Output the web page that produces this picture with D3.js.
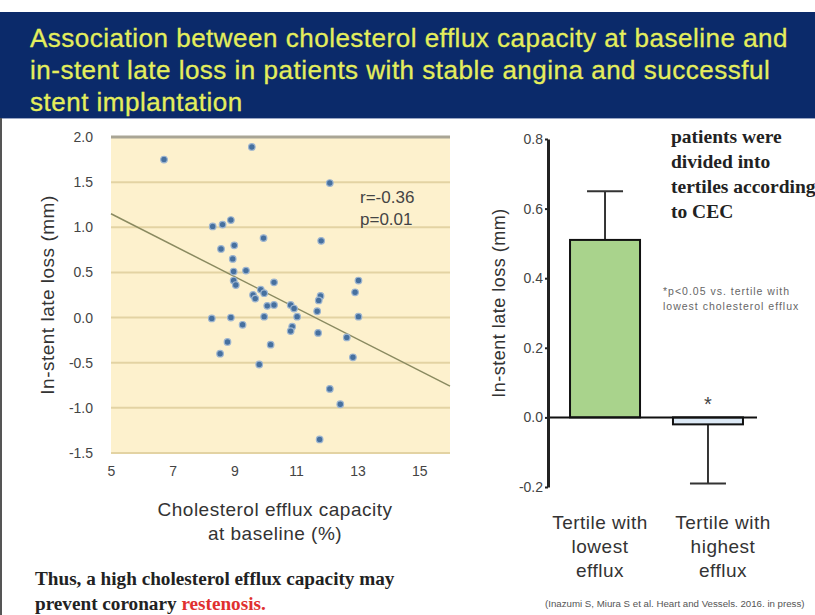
<!DOCTYPE html>
<html>
<head>
<meta charset="utf-8">
<script src="https://cdn.jsdelivr.net/npm/d3@7"></script>
<style>
  body { margin: 0; background: #fff; }
  svg { display: block; font-family: "Liberation Sans", Arial, sans-serif; }
</style>
</head>
<body>
<svg id="slide" width="815" height="615"></svg>
<script>
// title lines
var titleLines = [
  "Association between cholesterol efflux capacity at baseline and",
  "in-stent late loss in patients with stable angina and successful",
  "stent implantation"
];

// scatter: cholesterol efflux capacity (%) vs in-stent late loss (mm)
var cecValues = [6.72, 9.57, 12.10, 8.30, 8.62, 8.89, 9.95, 11.82, 8.57, 9.00,
  8.95, 8.98, 9.38, 8.98, 9.05, 10.29, 9.61, 9.68, 9.86, 9.97,
  10.07, 10.29, 10.83, 10.94, 11.04, 9.97, 8.27, 8.89, 9.27, 10.88,
  10.83, 8.78, 8.54, 10.18, 9.81, 13.03, 12.92, 11.80, 11.74, 11.69,
  13.03, 11.72, 12.65, 12.85, 12.10, 12.44, 11.77];
var lossValues = [1.75, 1.89, 1.49, 1.01, 1.03, 1.08, 0.88, 0.85, 0.76, 0.80,
  0.65, 0.51, 0.52, 0.41, 0.36, 0.39, 0.25, 0.21, 0.31, 0.27,
  0.13, 0.14, 0.14, 0.10, 0.01, 0.01, -0.01, 0.00, -0.08, -0.10,
  -0.15, -0.27, -0.40, -0.30, -0.52, 0.41, 0.28, 0.24, 0.19, 0.07,
  0.01, -0.17, -0.22, -0.44, -0.79, -0.96, -1.35];
var fitLine = [[5, 1.15], [16, -0.76]];
var scatterXTicks = [5, 7, 9, 11, 13, 15];
var scatterYTicks = [2.0, 1.5, 1.0, 0.5, 0.0, -0.5, -1.0, -1.5];
var statLines = ["r=-0.36", "p=0.01"];

// bar chart: tertiles
var tertileNames = ["low", "high"];
var tertileLabels = [["Tertile with", "lowest", "efflux"], ["Tertile with", "highest", "efflux"]];
var tertileMeans = [0.51, -0.02];
var tertileErrors = [0.65, -0.19];
var barYTicks = [0.8, 0.6, 0.4, 0.2, 0.0, -0.2];

var fmt1 = function(d){ return d.toFixed(1); };  // plain hyphen minus like the slide

var svg = d3.select("#slide");

/* title banner */
svg.append("rect")
  .attr("x", 0).attr("y", 12)
  .attr("width", 815).attr("height", 106)
  .attr("fill", "#0b2a6a");
svg.append("line")
  .attr("x1", 0).attr("x2", 815)
  .attr("y1", 118.5).attr("y2", 118.5)
  .attr("stroke", "#9aa6c4").attr("stroke-width", 1);
svg.append("line")
  .attr("x1", 1).attr("x2", 1)
  .attr("y1", 118).attr("y2", 615)
  .attr("stroke", "#555").attr("stroke-width", 2);

svg.selectAll(".title-line")
  .data(titleLines)
  .enter().append("text")
  .attr("class", "title-line")
  .attr("x", 30)
  .attr("y", function(d, i){ return 47 + i * 32; })
  .attr("fill", "#e4ee5c")
  .attr("stroke", "#e4ee5c")
  .attr("stroke-width", 0.3)
  .style("font-size", "26px")
  .style("letter-spacing", "0.5px")
  .text(function(d){ return d; });

/* scatter plot */
var sc = {left: 111, right: 450, top: 137, bottom: 453};

var x = d3.scaleLinear().domain([5, 16]).range([sc.left, sc.right]);
var y = d3.scaleLinear().domain([-1.5, 2.0]).range([sc.bottom, sc.top]);

var gS = svg.append("g");

gS.append("rect")
  .attr("x", sc.left).attr("y", sc.top)
  .attr("width", sc.right - sc.left).attr("height", sc.bottom - sc.top)
  .attr("fill", "#fdf1cd");

gS.selectAll(".grid")
  .data(scatterYTicks)
  .enter().append("line")
  .attr("class", "grid")
  .attr("x1", sc.left).attr("x2", sc.right)
  .attr("y1", function(d){ return y(d); })
  .attr("y2", function(d){ return y(d); })
  .attr("stroke", function(d){ return d == 2.0 ? "#a9a595" : "#e3d3a3"; })
  .attr("stroke-width", function(d){ return d == 2.0 ? 3 : 2; });

var yAxisS = gS.append("g")
  .attr("transform", "translate(" + sc.left + ",0)")
  .call(d3.axisLeft(y).tickValues(scatterYTicks).tickFormat(fmt1).tickSize(0).tickPadding(18));
yAxisS.select(".domain").remove();
yAxisS.selectAll("text").style("font-size", "14px").attr("fill", "#444");

var xAxisS = gS.append("g")
  .attr("transform", "translate(0," + sc.bottom + ")")
  .call(d3.axisBottom(x).tickValues(scatterXTicks).tickSize(0).tickPadding(13));
xAxisS.select(".domain").remove();
xAxisS.selectAll("text").style("font-size", "14px").attr("fill", "#444");

gS.append("path")
  .datum(fitLine)
  .attr("d", d3.line().x(function(d){ return x(d[0]); }).y(function(d){ return y(d[1]); }))
  .attr("stroke", "#8a8a60")
  .attr("stroke-width", 1.5)
  .attr("fill", "none");

var pts = cecValues.map(function(d, i){ return {cec: d, loss: lossValues[i]}; });

gS.selectAll(".pt")
  .data(pts)
  .enter().append("circle")
  .attr("class", "pt")
  .attr("cx", function(d){ return x(d.cec); })
  .attr("cy", function(d){ return y(d.loss); })
  .attr("r", 3.3)
  .attr("fill", "#46709f")
  .attr("stroke", "#9db5d0")
  .attr("stroke-width", 1.2);

gS.selectAll(".stat")
  .data(statLines)
  .enter().append("text")
  .attr("class", "stat")
  .attr("x", 360)
  .attr("y", function(d, i){ return 203 + i * 22; })
  .attr("fill", "#444")
  .style("font-size", "17px")
  .text(function(d){ return d; });

gS.append("text")
  .attr("transform", "translate(54," + ((sc.top + sc.bottom) / 2) + ") rotate(-90)")
  .attr("text-anchor", "middle")
  .attr("fill", "#333")
  .style("font-size", "19px")
  .style("letter-spacing", "0.5px")
  .text("In-stent late loss (mm)");

gS.selectAll(".xlab")
  .data(["Cholesterol efflux capacity", "at baseline (%)"])
  .enter().append("text")
  .attr("class", "xlab")
  .attr("x", 275)
  .attr("y", function(d, i){ return 516 + i * 24; })
  .attr("text-anchor", "middle")
  .attr("fill", "#333")
  .style("font-size", "19px")
  .style("letter-spacing", "0.5px")
  .text(function(d){ return d; });

/* bar chart */
var bc = {left: 548, right: 757, top: 139, bottom: 487};

var yb = d3.scaleLinear().domain([-0.2, 0.8]).range([bc.bottom, bc.top]);
var xb = d3.scaleBand().domain(tertileNames).range([bc.left, 765]).paddingInner(0.32).paddingOuter(0.214);
// the category captions sit a little off the bar centres on the slide
var xLab = d3.scalePoint().domain(tertileNames).range([600, 723]);

var gB = svg.append("g");

var bars = gB.selectAll(".bar")
  .data(tertileNames)
  .enter().append("g")
  .attr("class", "bar");

bars.append("line")
  .attr("x1", function(d){ return xb(d) + xb.bandwidth() / 2; })
  .attr("x2", function(d){ return xb(d) + xb.bandwidth() / 2; })
  .attr("y1", function(d, i){ return yb(tertileMeans[i]); })
  .attr("y2", function(d, i){ return yb(tertileErrors[i]); })
  .attr("stroke", "#333").attr("stroke-width", 2);

bars.append("line")
  .attr("x1", function(d){ return xb(d) + xb.bandwidth() / 2 - 18; })
  .attr("x2", function(d){ return xb(d) + xb.bandwidth() / 2 + 18; })
  .attr("y1", function(d, i){ return yb(tertileErrors[i]); })
  .attr("y2", function(d, i){ return yb(tertileErrors[i]); })
  .attr("stroke", "#333").attr("stroke-width", 2);

bars.append("rect")
  .attr("x", function(d){ return xb(d); })
  .attr("width", xb.bandwidth())
  .attr("y", function(d, i){ return yb(Math.max(0, tertileMeans[i])); })
  .attr("height", function(d, i){ return Math.abs(yb(tertileMeans[i]) - yb(0)); })
  .attr("fill", function(d, i){ return i == 0 ? "#a9d38c" : "#dce9f6"; })
  .attr("stroke", "#111").attr("stroke-width", 2);

gB.append("line")
  .attr("x1", bc.left).attr("x2", bc.right)
  .attr("y1", yb(0)).attr("y2", yb(0))
  .attr("stroke", "#111").attr("stroke-width", 2);

var yAxisB = gB.append("g")
  .attr("transform", "translate(" + bc.left + ",0)")
  .call(d3.axisLeft(yb).tickValues(barYTicks).tickFormat(fmt1).tickSizeInner(3).tickSizeOuter(0).tickPadding(2));
yAxisB.select(".domain").attr("stroke", "#222").attr("stroke-width", 3);
yAxisB.selectAll("line").attr("stroke", "#222").attr("stroke-width", 2);
yAxisB.selectAll("text").style("font-size", "14px").attr("fill", "#444");

gB.append("text")
  .attr("x", xb("high") + xb.bandwidth() / 2)
  .attr("y", yb(0.0) - 6)
  .attr("text-anchor", "middle")
  .attr("fill", "#444")
  .style("font-size", "20px")
  .text("*");

gB.append("text")
  .attr("transform", "translate(505," + ((bc.top + bc.bottom) / 2 - 10) + ") rotate(-90)")
  .attr("text-anchor", "middle")
  .attr("fill", "#333")
  .style("font-size", "18px")
  .style("letter-spacing", "0.5px")
  .text("In-stent late loss (mm)");

tertileLabels.forEach(function(lines, i){
  gB.selectAll(".tl" + i)
    .data(lines)
    .enter().append("text")
    .attr("x", xLab(tertileNames[i]))
    .attr("y", function(d, j){ return 529 + j * 24; })
    .attr("text-anchor", "middle")
    .attr("fill", "#333")
    .style("font-size", "19px")
    .style("letter-spacing", "0.5px")
    .text(function(d){ return d; });
});

/* side notes */
svg.selectAll(".note")
  .data(["patients were", "divided into", "tertiles according", "to CEC"])
  .enter().append("text")
  .attr("class", "note")
  .attr("x", 671)
  .attr("y", function(d, i){ return 143 + i * 25; })
  .attr("fill", "#222")
  .style("font-family", "'Liberation Serif', 'Times New Roman', serif")
  .style("font-weight", "bold")
  .style("font-size", "19.5px")
  .text(function(d){ return d; });

svg.selectAll(".foot")
  .data(["*p<0.05 vs. tertile with", "lowest cholesterol efflux"])
  .enter().append("text")
  .attr("class", "foot")
  .attr("x", 663)
  .attr("y", function(d, i){ return 295 + i * 15; })
  .attr("fill", "#666")
  .style("font-size", "10.5px")
  .style("letter-spacing", "1px")
  .text(function(d){ return d; });

var concl = svg.append("g");
concl.append("text")
  .attr("x", 35).attr("y", 585)
  .attr("fill", "#222")
  .style("font-family", "'Liberation Serif', 'Times New Roman', serif")
  .style("font-weight", "bold")
  .style("font-size", "19.2px")
  .text("Thus, a high cholesterol efflux capacity may");
var l2 = concl.append("text")
  .attr("x", 35).attr("y", 610)
  .attr("fill", "#222")
  .style("font-family", "'Liberation Serif', 'Times New Roman', serif")
  .style("font-weight", "bold")
  .style("font-size", "19.2px");
l2.append("tspan").text("prevent coronary ");
l2.append("tspan").attr("fill", "#e0302f").text("restenosis.");

svg.append("text")
  .attr("x", 545).attr("y", 607)
  .attr("fill", "#555")
  .style("font-size", "9.7px")
  .text("(Inazumi S, Miura S et al. Heart and Vessels. 2016. in press)");
</script>
</body>
</html>
